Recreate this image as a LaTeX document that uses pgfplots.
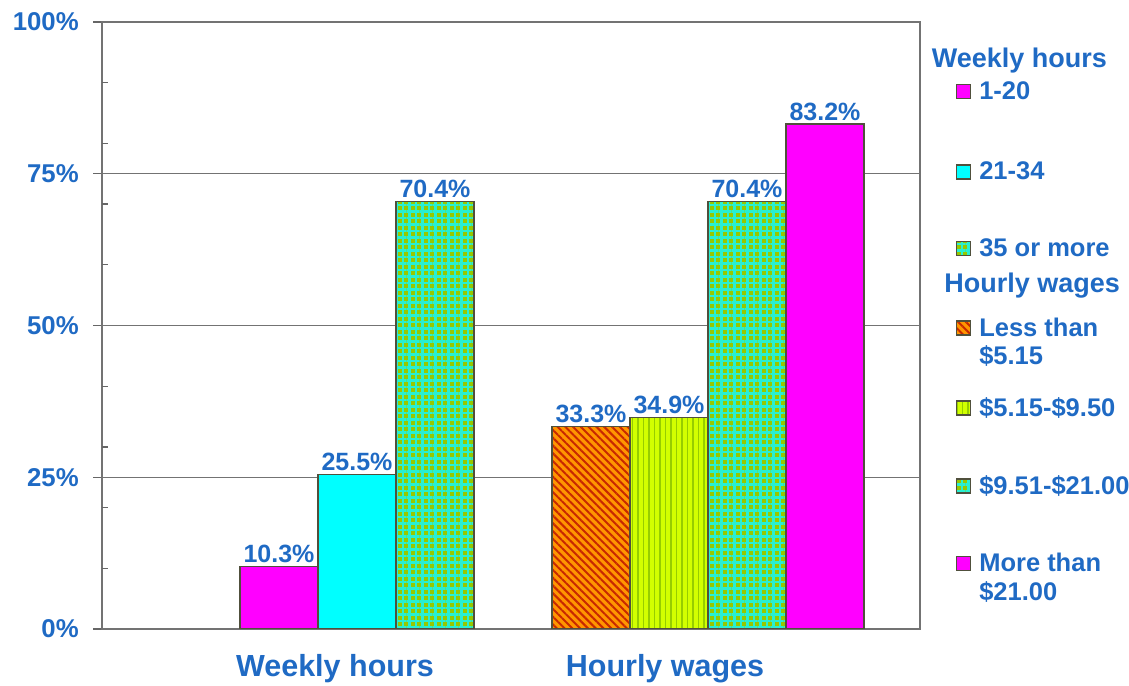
\documentclass[border=0pt]{standalone}
\usepackage{fontspec}
\setmainfont{Liberation Sans}
\usepackage{pgfplots}
\pgfplotsset{compat=1.18}
\usetikzlibrary{patterns,patterns.meta}
\definecolor{txtblue}{RGB}{31,106,196}
\definecolor{barmag}{RGB}{255,0,255}
\definecolor{barcyan}{RGB}{0,255,255}
\definecolor{gridbase}{RGB}{150,200,0}
\definecolor{gridline}{RGB}{40,240,210}
\definecolor{stripebase}{RGB}{255,150,0}
\definecolor{stripeline}{RGB}{200,40,0}
\definecolor{vertbase}{RGB}{210,255,0}
\definecolor{vertline}{RGB}{150,205,0}
\definecolor{baredge}{RGB}{80,80,60}
\pgfplotsset{
  mybar/.style={bar shift=0pt, draw=baredge, line width=0.5pt},
  lg/.style={legend image code/.code={\draw[##1] (0pt,0.4pt) rectangle (5.6pt,6pt); \path (0pt,-#1) (0pt,9pt);}},
  lghead/.style={legend image code/.code={\path (0pt,-#1) (0pt,9pt);}},
}
\begin{document}
\begin{tikzpicture}
\useasboundingbox (0,0) rectangle (451.6pt,274.4pt);
\begin{axis}[
  at={(40.8pt,22.8pt)}, anchor=south west,
  scale only axis, width=327.2pt, height=242.8pt,
  xmin=0, xmax=818, ymin=0, ymax=100,
  ybar, bar width=78,
  axis line style={draw=black!55, line width=0.7pt},
  ymajorgrids, major grid style={draw=black!55, line width=0.5pt},
  ytick={0,25,50,75,100},
  yticklabels={0\%,25\%,50\%,75\%,100\%},
  yticklabel style={font=\bfseries\fontsize{10.3}{12}\selectfont, text=txtblue, xshift=-2.2pt},
  ytick pos=left, tick align=outside, major tick length=3.6pt,
  tick style={draw=black!60, line width=0.5pt},
  extra y ticks={10,20,30,40,60,70,80,90},
  extra y tick labels={},
  extra y tick style={tick align=inside, major tick length=2.4pt, grid=none},
  xtick={233,563},
  xticklabels={Weekly hours,Hourly wages},
  xticklabel style={font=\bfseries\fontsize{12.2}{14}\selectfont, text=txtblue, yshift=-3pt},
  xtick style={draw=none},
  nodes near coords={\pgfmathprintnumber[fixed,fixed zerofill,precision=1]{\pgfplotspointmeta}\%},
  /pgf/number format/assume math mode=true,
  every node near coord/.append style={font=\bfseries\fontsize{10}{12}\selectfont, text=txtblue, inner sep=1.2pt},
  legend cell align=left,
  legend style={at={(1.0428,0.9662)}, anchor=north west, draw=none, fill=none,
    inner sep=0pt, row sep=0pt, column sep=1.4pt,
    font=\bfseries\fontsize{10.2}{11.5}\selectfont, text=txtblue,
    cells={anchor=base west, inner sep=0pt}},
]
\addlegendimage{lghead=3.4pt}
\addlegendentry{\hspace*{-19pt}\fontsize{10.8}{13}\selectfont Weekly hours}
\addplot[mybar, lg=22.6pt, fill=barmag] coordinates {(177,10.3)};
\addlegendentry{1-20}
\addplot[mybar, lg=21pt, fill=barcyan] coordinates {(255,25.5)};
\addlegendentry{21-34}
\addplot[mybar, lg=4.6pt, fill=gridbase, postaction={pattern={Hatch[angle=0,distance=2.6pt,line width=0.9pt]}, pattern color=gridline}] coordinates {(333,70.4)};
\addlegendentry{35 or more}
\addlegendimage{lghead=7pt}
\addlegendentry{\hspace*{-14pt}\fontsize{10.8}{13}\selectfont Hourly wages}
\addplot[mybar, lg=22.2pt, fill=stripebase, postaction={pattern={Lines[angle=-45,distance=2.2pt,line width=0.8pt]}, pattern color=stripeline}] coordinates {(489,33.3)};
\addlegendentry{\begin{tabular}[t]{@{}l@{}}Less than\\\$5.15\end{tabular}}
\addplot[mybar, lg=21.4pt, fill=vertbase, postaction={pattern={Lines[angle=90,distance=2.2pt,line width=0.7pt]}, pattern color=vertline}] coordinates {(567,34.9)};
\addlegendentry{\$5.15-\$9.50}
\addplot[mybar, lg=20.6pt, fill=gridbase, postaction={pattern={Hatch[angle=0,distance=2.6pt,line width=0.9pt]}, pattern color=gridline}] coordinates {(645,70.4)};
\addlegendentry{\$9.51-\$21.00}
\addplot[mybar, lg=12pt, fill=barmag] coordinates {(723,83.2)};
\addlegendentry{\begin{tabular}[t]{@{}l@{}}More than\\\$21.00\end{tabular}}
\end{axis}
\end{tikzpicture}
\end{document}
